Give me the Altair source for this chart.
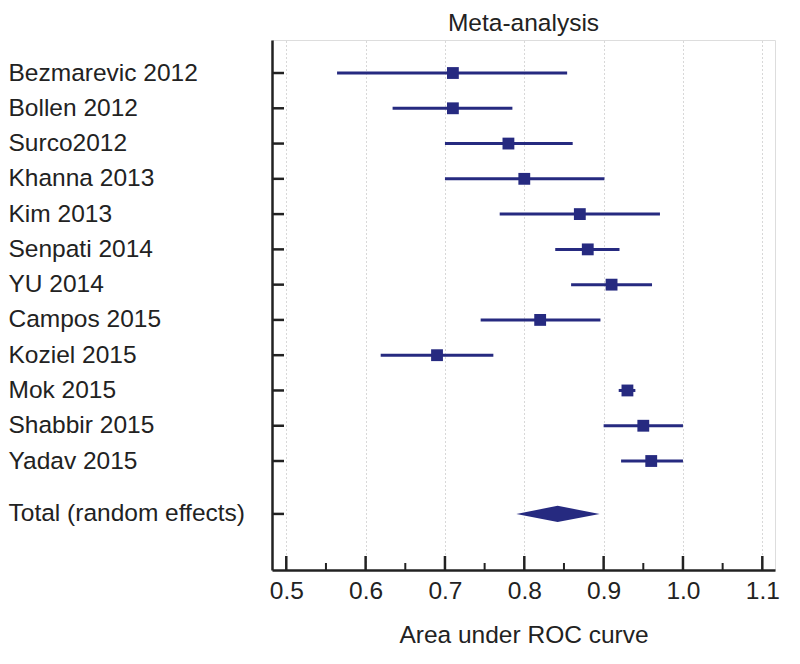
import json
import altair as alt
import pandas as pd

# ---- data ----
studies = ["Bezmarevic 2012", "Bollen 2012", "Surco2012", "Khanna 2013", "Kim 2013",
           "Senpati 2014", "YU 2014", "Campos 2015", "Koziel 2015", "Mok 2015",
           "Shabbir 2015", "Yadav 2015"]
auc = [0.71, 0.71, 0.78, 0.80, 0.87, 0.88, 0.91, 0.82, 0.69, 0.93, 0.95, 0.96]
ci_low = [0.564, 0.634, 0.70, 0.70, 0.769, 0.839, 0.859, 0.745, 0.619, 0.919, 0.90, 0.922]
ci_high = [0.854, 0.785, 0.861, 0.901, 0.971, 0.92, 0.961, 0.896, 0.761, 0.94, 1.00, 1.00]

total_label = "Total (random effects)"
total_auc = 0.842
total_low = 0.79
total_high = 0.895

x_ticks = [0.5, 0.6, 0.7, 0.8, 0.9, 1.0, 1.1]
x_minor = [0.55, 0.65, 0.75, 0.85, 0.95, 1.05]

# ---- layout helpers ----
NAVY = "#262a80"
W, H = 503, 530
rows = list(range(1, len(studies) + 1))
total_row = len(studies) + 1.5
diamond_half = 0.23

df = pd.DataFrame({"study": studies, "row": rows, "auc": auc, "lo": ci_low, "hi": ci_high})
df_rows = pd.DataFrame({"row": rows + [total_row]})
df_diamond = pd.DataFrame({
    "x": [total_low, total_auc, total_high],
    "y": [total_row, total_row - diamond_half, total_row],
    "y2": [total_row, total_row + diamond_half, total_row],
})
df_major = pd.DataFrame({"v": x_ticks})
df_minor = pd.DataFrame({"v": x_minor})

label_arr = [""] * (int(total_row * 2) + 2)
for i, s in enumerate(studies):
    label_arr[2 * (i + 1)] = s
label_arr[int(total_row * 2)] = total_label
label_expr = json.dumps(label_arr) + "[round(datum.value*2)]"

xscale = alt.Scale(domain=[0.482, 1.116], nice=False, zero=False)
yscale = alt.Scale(domain=[0.064, 15.09], nice=False, zero=False, reverse=True)

FONT = "Liberation Sans"
FS = 24.5

x_axis = alt.Axis(values=x_ticks, format=".1f", title="Area under ROC curve",
                  grid=True, gridDash=[1, 3], gridColor="#b0b0b0", gridWidth=1,
                  ticks=False, tickSize=0, domainColor="#222222", domainWidth=2.5,
                  labelFont=FONT, labelFontSize=FS, labelColor="#222222", labelPadding=9,
                  titleFont=FONT, titleFontSize=FS, titleFontWeight="normal",
                  titleColor="#222222", titlePadding=21)
y_axis = alt.Axis(values=rows + [total_row], labelExpr=label_expr, title=None,
                  grid=False, ticks=False, tickSize=0, domainColor="#222222", domainWidth=2.5,
                  labelAlign="left", labelPadding=264, labelLimit=0, labelFont=FONT,
                  labelFontSize=FS, labelColor="#222222", labelBaseline="middle")

ci = alt.Chart(df).mark_rule(color=NAVY, strokeWidth=3).encode(
    x=alt.X("lo:Q", scale=xscale, axis=x_axis),
    x2="hi:Q",
    y=alt.Y("row:Q", scale=yscale, axis=y_axis),
)
pts = alt.Chart(df).mark_square(color=NAVY, size=140, opacity=1).encode(
    x=alt.X("auc:Q", scale=xscale),
    y=alt.Y("row:Q", scale=yscale),
)
diamond = alt.Chart(df_diamond).mark_area(color=NAVY, orient="vertical", opacity=1).encode(
    x=alt.X("x:Q", scale=xscale),
    y=alt.Y("y:Q", scale=yscale),
    y2="y2:Q",
)
ytick = alt.Chart(df_rows).mark_rule(color="#222222", strokeWidth=2.5).encode(
    x=alt.value(0), x2=alt.value(12),
    y=alt.Y("row:Q", scale=yscale),
)
xmajor = alt.Chart(df_major).mark_rule(color="#222222", strokeWidth=2.5).encode(
    x=alt.X("v:Q", scale=xscale),
    y=alt.value(H), y2=alt.value(H - 14),
)
xminor = alt.Chart(df_minor).mark_rule(color="#222222", strokeWidth=2).encode(
    x=alt.X("v:Q", scale=xscale),
    y=alt.value(H), y2=alt.value(H - 7),
)

chart = alt.layer(ci, xmajor, xminor, ytick, diamond, pts).properties(
    width=W, height=H, padding={"left": 0, "top": 2, "right": 0, "bottom": 0},
    title=alt.TitleParams("Meta-analysis", font=FONT, fontSize=FS, fontWeight="normal",
                          color="#222222", anchor="middle", offset=4),
).configure_view(stroke=None).configure(background="white")

chart.save("out.html", embed_options={"renderer": "svg", "actions": False})
